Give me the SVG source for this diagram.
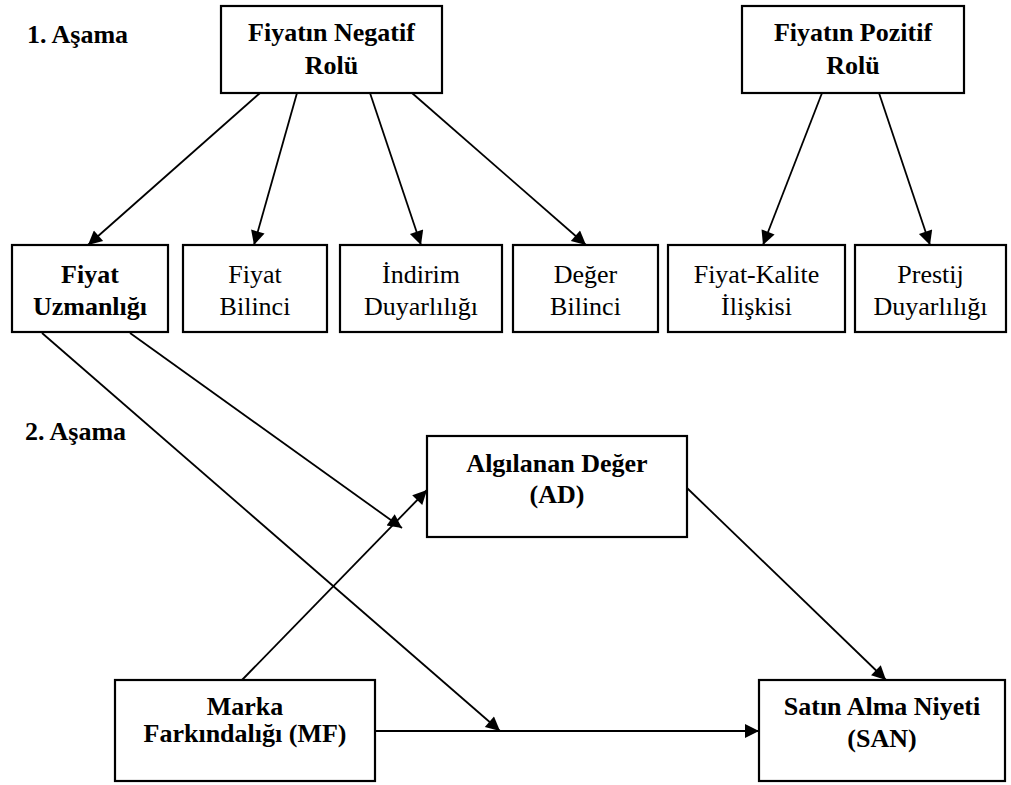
<svg xmlns="http://www.w3.org/2000/svg" width="1011" height="785" viewBox="0 0 1011 785">
<defs>
<marker id="arr" viewBox="0 0 10 10" refX="10" refY="5" markerWidth="19" markerHeight="14" markerUnits="userSpaceOnUse" orient="auto">
<path d="M0,0 L10,5 L0,10 z" fill="#000"/>
</marker>
</defs>
<style>
.box{fill:#fff;stroke:#000;stroke-width:2.2}
.t{font-family:"Liberation Serif","Times New Roman",serif;font-size:26px;fill:#000;text-anchor:middle}
.b{font-weight:bold}
.lbl{font-family:"Liberation Serif","Times New Roman",serif;font-size:26px;font-weight:bold;fill:#000}
.ca{stroke:#000;stroke-width:1.8;fill:none;marker-end:url(#arr)}
</style>
<rect width="1011" height="785" fill="#fff"/>
<text class="lbl" x="27" y="43">1. Aşama</text>
<text class="lbl" x="25" y="440">2. Aşama</text>
<g id="connectors">
<line class="ca" x1="260" y1="93" x2="88" y2="245"/>
<line class="ca" x1="297" y1="93" x2="254" y2="245"/>
<line class="ca" x1="370" y1="93" x2="421" y2="245"/>
<line class="ca" x1="412" y1="93" x2="586" y2="245"/>
<line class="ca" x1="822" y1="93" x2="763" y2="245"/>
<line class="ca" x1="879" y1="93" x2="930" y2="245"/>
<line class="ca" x1="42" y1="333" x2="500" y2="731"/>
<line class="ca" x1="130" y1="333" x2="402" y2="528"/>
<line class="ca" x1="242" y1="680" x2="427" y2="490"/>
<line class="ca" x1="687" y1="488" x2="886" y2="680"/>
<line class="ca" x1="375" y1="731" x2="759" y2="731"/>
</g>
<g id="neg">
<rect class="box" x="221" y="6" width="221" height="87"/>
<text class="t b" x="331.5" y="41">Fiyatın Negatif</text>
<text class="t b" x="331.5" y="74">Rolü</text>
</g>
<g id="poz">
<rect class="box" x="742" y="6" width="222" height="87"/>
<text class="t b" x="853" y="41">Fiyatın Pozitif</text>
<text class="t b" x="853" y="74">Rolü</text>
</g>
<g id="uzman">
<rect class="box" x="12" y="245" width="156" height="87"/>
<text class="t b" x="90" y="283">Fiyat</text>
<text class="t b" x="90" y="315">Uzmanlığı</text>
</g>
<g id="bilinci">
<rect class="box" x="183" y="245" width="144" height="87"/>
<text class="t" x="255" y="283">Fiyat</text>
<text class="t" x="255" y="315">Bilinci</text>
</g>
<g id="indirim">
<rect class="box" x="340" y="245" width="162" height="87"/>
<text class="t" x="421" y="283">İndirim</text>
<text class="t" x="421" y="315">Duyarlılığı</text>
</g>
<g id="deger">
<rect class="box" x="513" y="245" width="145" height="87"/>
<text class="t" x="585.5" y="283">Değer</text>
<text class="t" x="585.5" y="315">Bilinci</text>
</g>
<g id="kalite">
<rect class="box" x="668" y="245" width="177" height="87"/>
<text class="t" x="756.5" y="283">Fiyat-Kalite</text>
<text class="t" x="756.5" y="315">İlişkisi</text>
</g>
<g id="prestij">
<rect class="box" x="855" y="245" width="151" height="87"/>
<text class="t" x="930.5" y="283">Prestij</text>
<text class="t" x="930.5" y="315">Duyarlılığı</text>
</g>
<g id="ad">
<rect class="box" x="427" y="436" width="260" height="101"/>
<text class="t b" x="557" y="472">Algılanan Değer</text>
<text class="t b" x="557" y="503">(AD)</text>
</g>
<g id="mf">
<rect class="box" x="115" y="680" width="260" height="101"/>
<text class="t b" x="245" y="715">Marka</text>
<text class="t b" x="245" y="742">Farkındalığı (MF)</text>
</g>
<g id="san">
<rect class="box" x="759" y="680" width="246" height="101"/>
<text class="t b" x="882" y="715">Satın Alma Niyeti</text>
<text class="t b" x="882" y="747">(SAN)</text>
</g>
</svg>
